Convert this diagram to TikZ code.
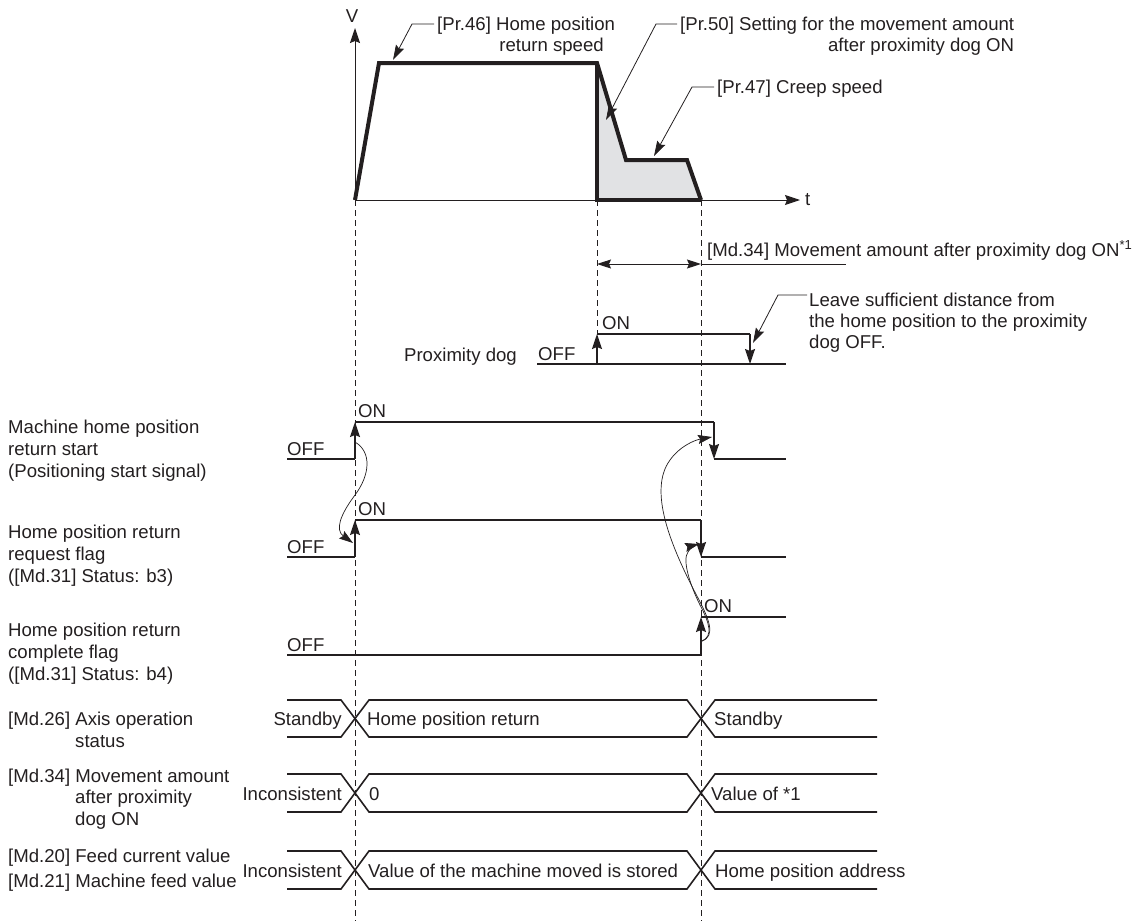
\documentclass[tikz,border=0pt]{standalone}
\usepackage{fontspec}
\setmainfont{Liberation Sans}
\usetikzlibrary{arrows.meta}
\definecolor{ink}{HTML}{231F20}
\definecolor{areagray}{HTML}{E1E2E4}
\begin{document}
\begin{tikzpicture}[x=1pt,y=-1pt,
  font=\fontsize{18.6}{22.4}\selectfont, text=ink,
  lbl/.style={anchor=base west, inner sep=0pt},
  lble/.style={anchor=base east, inner sep=0pt},
  lblc/.style={anchor=base, inner sep=0pt},
  sig/.style={line width=1.5pt, draw=ink},
  sigedge/.style={line width=1.5pt, draw=ink, -{Stealth[length=15pt,width=10pt,inset=2pt]}},
  prof/.style={line width=4pt, draw=ink, line join=miter},
  axisline/.style={line width=1pt, draw=ink, -{Stealth[length=15pt,width=10pt,inset=2pt]}},
  guide/.style={line width=0.9pt, draw=ink, dash pattern=on 6pt off 4pt},
  leader/.style={line width=0.8pt, draw=ink},
  leadarrow/.style={line width=0.8pt, draw=ink, -{Stealth[length=15pt,width=9pt,inset=2pt]}},
  curvearrow/.style={line width=0.7pt, draw=ink, -{Stealth[length=14pt,width=9pt,inset=2pt]}},
  dimarrow/.style={line width=1pt, draw=ink, {Stealth[length=14pt,width=9pt,inset=2pt]}-{Stealth[length=14pt,width=9pt,inset=2pt]}},
  bus/.style={line width=1.6pt, draw=ink, line join=miter}
]
\useasboundingbox (0,0) rectangle (1140,921);

% ---------- key coordinates ----------
\coordinate (o) at (355,200);
\coordinate (dogon) at (597,200);
\coordinate (home) at (701,200);

% ---------- dashed guide lines ----------
\draw[guide] (o) -- (355,921);
\draw[guide] (dogon) -- (597,334);
\draw[guide] (home) -- (701,921);

% ---------- speed profile ----------
\fill[areagray] (597,63) -- (626,160) -- (687,160) -- (701,200) -- (597,200) -- cycle;
\draw[axisline] (o) -- (355,28);
\draw[axisline] (o) -- (800,200);
\node[lblc] (V) at (352,22) {V};
\node[lbl] (t) at (805,205) {t};
\draw[prof] (o) -- (379,63) -- (597,63) -- (626,160) -- (687,160) -- (701,200);
\draw[prof] (597,63) -- (597,200) -- (701,200);

% ---------- top annotations ----------
\node[lbl] (pr46a) at (437,30) {[Pr.46] Home position};
\node[lble] (pr46b) at (604,51) {return speed};
\coordinate (pr46t) at (393,60);
\draw[leadarrow] (434,24) -- (412,24) -- (pr46t);

\node[lbl] (pr50a) at (680,30) {[Pr.50] Setting for the movement amount};
\node[lble] (pr50b) at (pr50a.base east |- 0,51) {after proximity dog ON};
\coordinate (pr50t) at (606,120);
\draw[leadarrow] (677,24) -- (656,24) -- (pr50t);

\node[lbl] (pr47) at (717,93) {[Pr.47] Creep speed};
\coordinate (pr47t) at (654,156);
\draw[leadarrow] (714,87) -- (692,87) -- (pr47t);

% ---------- Md.34 dimension ----------
\draw[dimarrow] (597,264) -- (701,264);
\draw[leader] (701,264) -- (846,264);
\node[lbl] (md34top) at (707,256) {[Md.34] Movement amount after proximity dog ON\textsuperscript{*1}};

% ---------- proximity dog ----------
\node[lble] (dog) at (517,361) {Proximity dog};
\node[lbl] (dogoff) at (538,360) {OFF};
\node[lbl] (dogonl) at (602,329) {ON};
\draw[sig] (537,364) -- (786,364);
\draw[sigedge] (597,364) -- (597,334);
\draw[sig] (597,334) -- (750,334);
\draw[sigedge] (750,334) -- (750,364);
\coordinate (dogofft) at (753,343);
\draw[leadarrow] (807,295) -- (778,295) -- (dogofft);
\node[lbl] (leave1) at (809,306) {Leave sufficient distance from};
\node[lbl] (leave2) at (809,327) {the home position to the proximity};
\node[lbl] (leave3) at (809,348) {dog OFF.};

% ---------- signal labels ----------
\node[lbl] (s1a) at (8,433) {Machine home position};
\node[lbl] (s1b) at (8,455) {return start};
\node[lbl] (s1c) at (8,477) {(Positioning start signal)};
\node[lbl] (s2a) at (8,538) {Home position return};
\node[lbl] (s2b) at (8,560) {request flag};
\node[lbl] (s2c) at (8,582) {([Md.31] Status: b3)};
\node[lbl] (s3a) at (8,636) {Home position return};
\node[lbl] (s3b) at (8,658) {complete flag};
\node[lbl] (s3c) at (8,680) {([Md.31] Status: b4)};

% ---------- signal 1: start ----------
\node[lbl] (off1) at (287,455) {OFF};
\node[lbl] (on1) at (358,417) {ON};
\draw[sig] (287,459) -- (355,459);
\draw[sigedge] (355,459) -- (355,422);
\draw[sig] (355,422) -- (714,422);
\draw[sigedge] (714,422) -- (714,459);
\draw[sig] (714,459) -- (786,459);

% ---------- signal 2: request flag ----------
\node[lbl] (off2) at (287,553) {OFF};
\node[lbl] (on2) at (358,515) {ON};
\draw[sig] (287,557) -- (355,557);
\draw[sigedge] (355,557) -- (355,520);
\draw[sig] (355,520) -- (701,520);
\draw[sigedge] (701,520) -- (701,557);
\draw[sig] (701,557) -- (786,557);

% ---------- signal 3: complete flag ----------
\node[lbl] (off3) at (287,651) {OFF};
\node[lbl] (on3) at (704,612) {ON};
\draw[sig] (287,655) -- (701,655);
\draw[sigedge] (701,655) -- (701,617);
\draw[sig] (701,617) -- (786,617);

% ---------- causal curves ----------
\draw[curvearrow] (355,442) .. controls (372,452) and (370,475) .. (355,495)
                  .. controls (340,515) and (335,530) .. (353,543);
\draw[curvearrow] (702,641) .. controls (716,636) and (709,619) .. (698,598)
                  .. controls (670,545) and (648,490) .. (670,460)
                  .. controls (680,446) and (695,440) .. (712,437);
\draw[curvearrow] (702,641) .. controls (713,636) and (710,624) .. (700,605)
                  .. controls (690,585) and (682,560) .. (688,552)
                  .. controls (691,547) and (695,545) .. (699,544);

% ---------- bottom labels ----------
\node[lbl] (m26a) at (8,725) {[Md.26] Axis operation};
\node[lbl] (m26b) at (75,747) {status};
\node[lbl] (m34a) at (8,782) {[Md.34] Movement amount};
\node[lbl] (m34b) at (75,803) {after proximity};
\node[lbl] (m34c) at (75,825) {dog ON};
\node[lbl] (m20) at (8,862) {[Md.20] Feed current value};
\node[lbl] (m21) at (8,887) {[Md.21] Machine feed value};

% ---------- bus rows ----------
\foreach \yt/\yb in {700/737, 774/812, 851/889}{
  \draw[bus] (287,\yt) -- (341,\yt) -- (369,\yb) -- (687,\yb) -- (715,\yt) -- (877,\yt);
  \draw[bus] (287,\yb) -- (341,\yb) -- (369,\yt) -- (687,\yt) -- (715,\yb) -- (877,\yb);
}
\node[lble] (a0) at (342,725) {Standby};
\node[lbl] (a1) at (367,725) {Home position return};
\node[lbl] (a2) at (714,725) {Standby};
\node[lble] (b0) at (342,800) {Inconsistent};
\node[lbl] (b1) at (369,800) {0};
\node[lbl] (b2) at (711,800) {Value of *1};
\node[lble] (c0) at (342,877) {Inconsistent};
\node[lbl] (c1) at (368,877) {Value of the machine moved is stored};
\node[lbl] (c2) at (715,877) {Home position address};
\end{tikzpicture}
\end{document}
